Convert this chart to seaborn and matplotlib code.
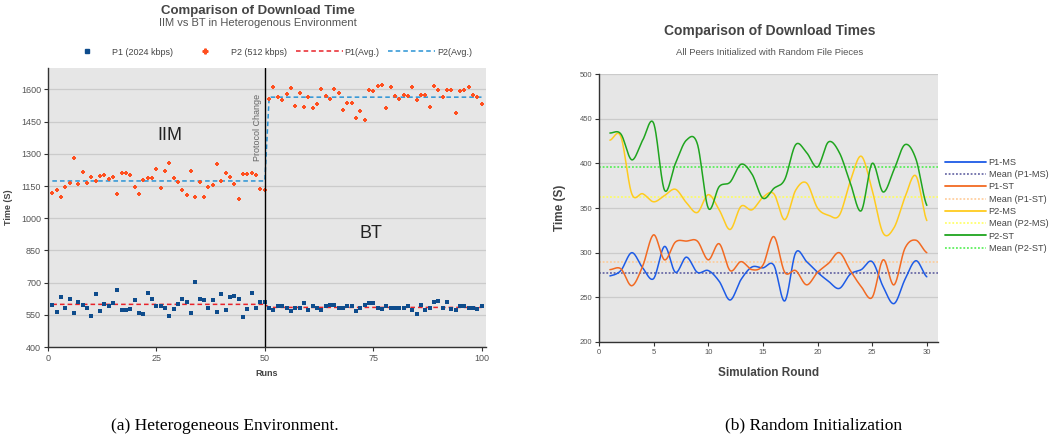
import numpy as np
import pandas as pd
import matplotlib
matplotlib.use("Agg")
import matplotlib.pyplot as plt
import seaborn as sns
from matplotlib.lines import Line2D

# ---- data: (a) heterogeneous environment, runs 1..100
runs = np.arange(1, 101)
p1_times = [597, 561, 631, 580, 626, 557, 612, 598, 584, 547, 648, 566, 602, 589, 606, 664, 571, 571, 575, 617,
            557, 552, 654, 622, 589, 589, 584, 543, 575, 602, 626, 612, 557, 705, 622, 617, 580, 617, 561, 645,
            571, 631, 639, 622, 538, 575, 654, 580, 612, 612,
            581, 571, 589, 589, 581, 566, 581, 581, 603, 571, 592, 581, 571, 589, 594, 598, 581, 581, 589, 589,
            566, 581, 594, 603, 603, 581, 577, 589, 581, 584, 584, 581, 589, 571, 555, 594, 571, 584, 608, 614,
            581, 608, 577, 571, 589, 589, 584, 581, 577, 589]
p2_times = [1116, 1132, 1101, 1147, 1163, 1281, 1161, 1215, 1166, 1191, 1172, 1195, 1202, 1183, 1192, 1112, 1211, 1211, 1203, 1146,
            1113, 1180, 1188, 1188, 1231, 1141, 1219, 1257, 1186, 1167, 1132, 1110, 1222, 1099, 1171, 1101, 1147, 1153, 1254, 1172,
            1212, 1191, 1158, 1091, 1206, 1208, 1212, 1203, 1136, 1130,
            1553, 1609, 1566, 1550, 1578, 1605, 1524, 1581, 1519, 1563, 1513, 1533, 1602, 1571, 1555, 1600, 1584, 1502, 1538, 1535,
            1468, 1498, 1457, 1598, 1592, 1614, 1622, 1512, 1611, 1571, 1557, 1575, 1571, 1611, 1550, 1575, 1575, 1519, 1616, 1595,
            1566, 1598, 1598, 1490, 1591, 1598, 1611, 1575, 1566, 1532]

# ---- data: (b) random initialization, rounds 1..30
rounds = np.arange(1, 31)
p1_ms = [274, 280, 300, 283, 271, 307, 278, 295, 278, 280, 268, 247, 270, 284, 283,
         286, 246, 300, 290, 278, 268, 260, 276, 281, 290, 262, 243, 270, 291, 273]
p1_st = [281, 282, 263, 285, 320, 292, 312, 313, 313, 292, 310, 280, 290, 281, 286,
         318, 278, 280, 264, 278, 288, 300, 280, 262, 250, 292, 264, 305, 314, 300]
p2_ms = [426, 430, 366, 366, 357, 364, 371, 356, 345, 365, 348, 326, 352, 348, 362,
         366, 337, 370, 378, 350, 342, 342, 380, 408, 370, 322, 328, 362, 386, 336]
p2_st = [434, 433, 404, 426, 445, 370, 400, 426, 422, 350, 374, 379, 399, 388, 361,
         372, 382, 421, 412, 396, 424, 412, 378, 347, 400, 368, 393, 421, 405, 353]


def smooth(x, y, n=24):
    # catmull-rom curve through the points (like the "smooth line" option)
    x = np.asarray(x, float)
    y = np.asarray(y, float)
    px = np.r_[2 * x[0] - x[1], x, 2 * x[-1] - x[-2]]
    py = np.r_[y[0], y, y[-1]]
    xs, ys = [], []
    t = np.linspace(0, 1, n, endpoint=False)
    for i in range(1, len(px) - 2):
        for p, out in ((px, xs), (py, ys)):
            p0, p1, p2, p3 = p[i - 1], p[i], p[i + 1], p[i + 2]
            out.extend(0.5 * (2 * p1 + (-p0 + p2) * t + (2 * p0 - 5 * p1 + 4 * p2 - p3) * t ** 2
                              + (-p0 + 3 * p1 - 3 * p2 + p3) * t ** 3))
    xs.append(x[-1])
    ys.append(y[-1])
    return np.array(xs), np.array(ys)


sns.set_theme(style="white")
plt.rcParams['font.family'] = ['Liberation Sans', 'DejaVu Sans']
txt = '#444444'
tick_c = '#555555'

fig = plt.figure(figsize=(10.62, 4.41), dpi=100)
ax1 = fig.add_axes([0.0452, 0.213, 0.4124, 0.633])
ax2 = fig.add_axes([0.564, 0.2245, 0.319, 0.6075])

# ================= (a)
df = pd.DataFrame({'run': runs, 'p1': p1_times, 'p2': p2_times})
df['half'] = np.where(df.run <= 50, 0, 1)
df['p1_avg'] = df.groupby('half').p1.transform('mean')
df['p2_avg'] = df.groupby('half').p2.transform('mean')

ax1.set_facecolor('#e6e6e6')
ax1.set_axisbelow(True)
ax1.grid(axis='y', color='#cbcbcb', lw=0.9)
sns.scatterplot(data=df, x='run', y='p1', marker='s', color='#0e4c8c', s=8, linewidth=0, ax=ax1, zorder=3)
sns.scatterplot(data=df, x='run', y='p2', marker='P', color='#ff4f1f', s=9, linewidth=0, ax=ax1, zorder=3)
sns.lineplot(data=df, x='run', y='p1_avg', color='#e8232a', linestyle=(0, (3, 2)), lw=1.1, ax=ax1, zorder=2)
sns.lineplot(data=df, x='run', y='p2_avg', color='#2a93d5', linestyle=(0, (3, 2)), lw=1.1, ax=ax1, zorder=2)
ax1.axvline(50, color='black', lw=1, zorder=4)

ax1.set_xlim(0, 101)
ax1.set_ylim(400, 1700)
ax1.set_xticks([0, 25, 50, 75, 100])
ax1.set_yticks(np.arange(400, 1601, 150))
ax1.tick_params(axis='both', labelsize=6.5, labelcolor=tick_c, length=3, width=0.8, color='#333333',
                left=True, bottom=True, pad=2)
for s in ['top', 'right']:
    ax1.spines[s].set_visible(False)
for s in ['left', 'bottom']:
    ax1.spines[s].set_color('#333333')
    ax1.spines[s].set_linewidth(1)
ax1.set_xlabel('Runs', fontsize=6.5, fontweight='bold', color=txt, labelpad=4)
ax1.set_ylabel('Time (S)', fontsize=6.5, fontweight='bold', color=txt, labelpad=6)

ax1.text(28, 1385, 'IIM', fontsize=13, color='#222222', ha='center', va='center')
ax1.text(74.5, 930, 'BT', fontsize=13, color='#222222', ha='center', va='center')
ax1.text(48.4, 1425, 'Protocol Change', rotation=90, fontsize=6.5, color='#666666', ha='center', va='center')

h1 = [Line2D([], [], marker='s', color='#0e4c8c', ls='none', ms=3.5),
      Line2D([], [], marker='P', color='#ff4f1f', ls='none', ms=3.5),
      Line2D([], [], color='#e8232a', ls=(0, (3, 2)), lw=1.1),
      Line2D([], [], color='#2a93d5', ls=(0, (3, 2)), lw=1.1)]
fig.legend(h1, ['P1 (2024 kbps)', 'P2 (512 kbps)', 'P1(Avg.)', 'P2(Avg.)'], loc='center',
           bbox_to_anchor=(0.252, 0.882), ncol=4, frameon=False, fontsize=6.5, handlelength=5.2,
           handletextpad=0.2, columnspacing=1.0, labelcolor=txt)

fig.text(0.243, 0.975, 'Comparison of Download Time', fontsize=9.5, fontweight='bold', color=txt,
         ha='center', va='center')
fig.text(0.243, 0.947, 'IIM vs BT in Heterogenous Environment', fontsize=8, color='#555555',
         ha='center', va='center')

# ================= (b)
ax2.set_facecolor('#e6e6e6')
ax2.set_axisbelow(True)
ax2.grid(axis='y', color='#cbcbcb', lw=0.9)

series = [('P1-MS', p1_ms, '#1d5be6', '#55559a'),
          ('P1-ST', p1_st, '#f26a22', '#ffc890'),
          ('P2-MS', p2_ms, '#ffcb1f', '#ffff55'),
          ('P2-ST', p2_st, '#1fa51f', '#44ee44')]
h2, l2 = [], []
for name, vals, c, mc in series:
    sx, sy = smooth(rounds, vals)
    sns.lineplot(x=sx, y=sy, color=c, lw=1.1, ax=ax2, sort=False, zorder=3)
    ax2.axhline(np.mean(vals), color=mc, lw=1.1, ls=(0, (1.2, 1.2)), zorder=2)
    h2 += [Line2D([], [], color=c, lw=1.3), Line2D([], [], color=mc, lw=1.1, ls=(0, (1.2, 1.2)))]
    l2 += [name, 'Mean (%s)' % name]

ax2.set_xlim(0, 31)
ax2.set_ylim(200, 500)
ax2.set_xticks(np.arange(0, 31, 5))
ax2.set_yticks(np.arange(200, 501, 50))
ax2.tick_params(axis='both', labelsize=5.5, labelcolor=tick_c, length=3, width=0.8, color='#333333',
                left=True, bottom=True, pad=2)
for s in ['top', 'right']:
    ax2.spines[s].set_visible(False)
for s in ['left', 'bottom']:
    ax2.spines[s].set_color('#333333')
    ax2.spines[s].set_linewidth(1)
ax2.set_xlabel('Simulation Round', fontsize=8.5, fontweight='bold', color=txt, labelpad=8)
ax2.set_ylabel('Time (S)', fontsize=8.5, fontweight='bold', color=txt, labelpad=10)

ax2.legend(h2, l2, loc='center left', bbox_to_anchor=(1.02, 0.51), frameon=False, fontsize=6.6,
           handlelength=4.5, handletextpad=0.3, labelspacing=0.36, borderaxespad=0, borderpad=0,
           labelcolor=txt)

fig.text(0.725, 0.93, 'Comparison of Download Times', fontsize=10, fontweight='bold', color=txt,
         ha='center', va='center')
fig.text(0.725, 0.882, 'All Peers Initialized with Random File Pieces', fontsize=6.8, color='#555555',
         ha='center', va='center')

# captions
fig.text(0.212, 0.035, '(a) Heterogeneous Environment.', fontsize=12.5, family='Liberation Serif',
         ha='center', va='center', color='black')
fig.text(0.766, 0.035, '(b) Random Initialization', fontsize=12.5, family='Liberation Serif',
         ha='center', va='center', color='black')

fig.savefig('out.png', dpi=100)
